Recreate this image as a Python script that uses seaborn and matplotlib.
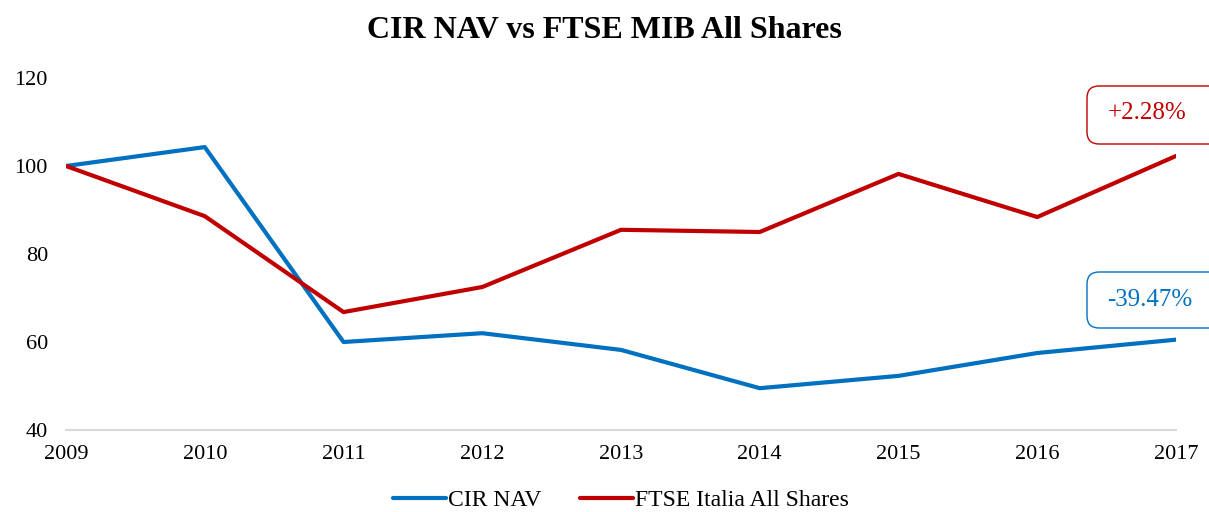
import numpy as np
import pandas as pd
import matplotlib
matplotlib.use("Agg")
import matplotlib.pyplot as plt
import seaborn as sns
from matplotlib.patches import FancyBboxPatch

years    = [2009, 2010, 2011, 2012, 2013, 2014, 2015, 2016, 2017]
cir_nav  = [100.0, 104.3, 60.0, 62.0, 58.2, 49.5, 52.3, 57.5, 60.53]
ftse_all = [100.0, 88.6, 66.8, 72.5, 85.5, 85.0, 98.2, 88.4, 102.28]
series   = ["CIR NAV", "FTSE Italia All Shares"]
labels   = ["-39.47%", "+2.28%"]
colors   = ["#0070C0", "#C00000"]

df = pd.DataFrame({
    "year":   years * 2,
    "value":  cir_nav + ftse_all,
    "series": [series[0]] * len(years) + [series[1]] * len(years),
})

sns.set_theme(style="white")
plt.rcParams["font.family"] = ["Liberation Serif", "DejaVu Serif"]
plt.rcParams["text.color"] = "black"

W, H = 1209, 512
fig = plt.figure(figsize=(W / 100, H / 100), dpi=100)
ax = fig.add_axes([66 / W, 1 - 430 / H, (1176 - 66) / W, (430 - 78) / H])

sns.lineplot(data=df, x="year", y="value", hue="series", palette=colors,
             linewidth=3, ax=ax)

ax.set_xlim(2009, 2017)
ax.set_ylim(40, 120)
ax.set_xticks(years)
ax.set_xticklabels([str(y) for y in years])
ax.set_yticks([40, 60, 80, 100, 120])
ax.tick_params(axis="both", labelsize=16, length=0, labelcolor="black")
ax.tick_params(axis="y", pad=13)
ax.tick_params(axis="x", pad=11)
ax.set_xlabel("")
ax.set_ylabel("")
for s in ["top", "right", "left"]:
    ax.spines[s].set_visible(False)
ax.spines["bottom"].set_color("#D9D9D9")
ax.spines["bottom"].set_linewidth(1.5)

fig.suptitle("CIR NAV vs FTSE MIB All Shares", fontsize=23, fontweight="bold",
             color="black", y=1 - 30 / H, va="center")

leg = ax.legend(loc="center", bbox_to_anchor=(0.5, -0.2), ncol=2, frameon=False,
                fontsize=17, handlelength=2.25, handletextpad=0.1, columnspacing=1.6)
for h in leg.get_lines():
    h.set_linewidth(3)
for t in leg.get_texts():
    t.set_color("black")

# end-of-period return boxes (run off the right edge like the original)
boxes = [(272, 328, 1150, 300), (86, 144, 1147, 113)]
for txt, col, (top, bot, xc, yc) in zip(labels, colors, boxes):
    patch = FancyBboxPatch((1087 / W, 1 - bot / H), 160 / W, (bot - top) / H,
                           boxstyle="round,pad=0,rounding_size=0.01",
                           transform=fig.transFigure, fc="white", ec=col, lw=1,
                           mutation_aspect=W / H)
    fig.add_artist(patch)
    fig.text(xc / W, 1 - yc / H, txt, color=col, fontsize=18,
             ha="center", va="center")

fig.savefig("out.png", dpi=100)
